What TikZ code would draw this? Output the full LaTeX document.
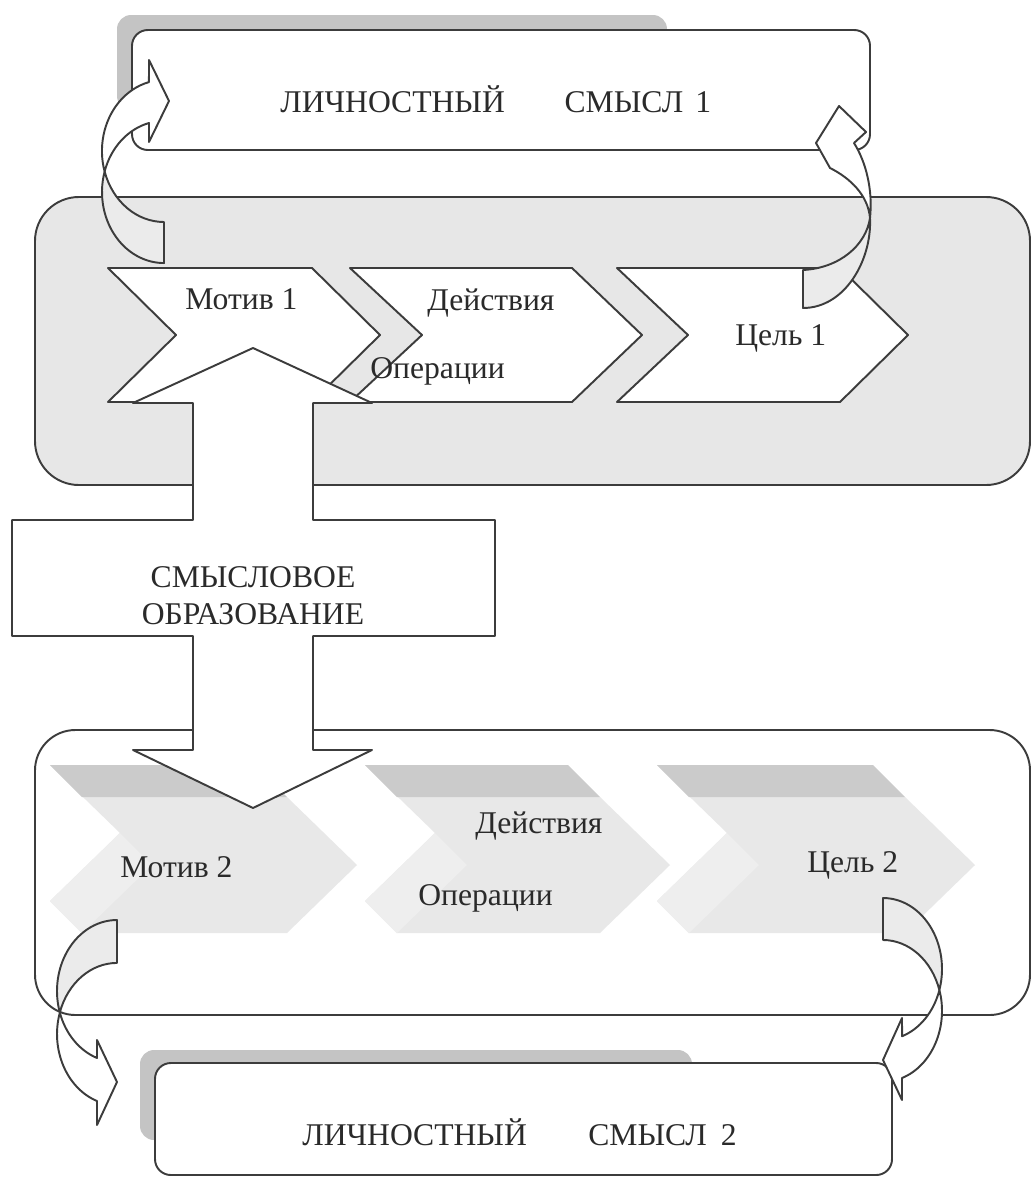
\documentclass[tikz,border=0pt]{standalone}
\usepackage{fontspec}
\setmainfont{Liberation Serif}
\definecolor{linec}{HTML}{3C3C3C}
\definecolor{txtc}{HTML}{2A2A2A}
\definecolor{boxgray}{HTML}{E7E7E7}
\definecolor{tabgray}{HTML}{C4C4C4}
\definecolor{bandgray}{HTML}{CBCBCB}
\definecolor{facegray}{HTML}{E8E8E8}
\definecolor{sidegray}{HTML}{EEEEEE}
\definecolor{backgray}{HTML}{EBEBEB}

\begin{document}
\begin{tikzpicture}[x=0.02cm,y=-0.02cm,
  ln/.style={draw=linec,line width=1.1pt,line join=round},
  lbl/.style={font=\fontsize{18}{20.5}\selectfont,text=txtc,inner sep=0pt},
  chev/.style={ln,fill=white},
  band/.style={fill=bandgray},
  face/.style={fill=facegray},
  side/.style={fill=sidegray},
  cback/.style={ln,fill=backgray},
  cfront/.style={ln,fill=white}]
\useasboundingbox (0,0) rectangle (1033,1180);

\fill[tabgray,rounded corners=8pt] (117,15) rectangle (667,110);
\draw[ln,fill=white,rounded corners=9pt] (132,30) rectangle (870,150);

\draw[ln,fill=boxgray,rounded corners=25pt] (35,197) rectangle (1030,485);
\draw[chev] (108,268) -- (312,268) -- (380,335) -- (312,402) -- (108,402) -- (176,335) -- cycle;
\draw[chev] (350,268) -- (572,268) -- (642,335) -- (572,402) -- (350,402) -- (422,335) -- cycle;
\draw[chev] (617,268) -- (840,268) -- (908,335) -- (840,402) -- (617,402) -- (688,335) -- cycle;

\draw[ln,fill=white,rounded corners=23pt] (35,730) rectangle (1030,1015);
\fill[face] (50,765) -- (255,765) -- (287,797) -- (357,865) -- (287,933) -- (82,933) -- (50,901) -- (120,833) -- cycle;
\fill[side] (120,833) -- (152,865) -- (82,933) -- (50,901) -- cycle;
\fill[band] (50,765) -- (255,765) -- (287,797) -- (82,797) -- cycle;
\fill[face] (365,765) -- (568,765) -- (600,797) -- (670,865) -- (600,933) -- (397,933) -- (365,901) -- (435,833) -- cycle;
\fill[side] (435,833) -- (467,865) -- (397,933) -- (365,901) -- cycle;
\fill[band] (365,765) -- (568,765) -- (600,797) -- (397,797) -- cycle;
\fill[face] (657,765) -- (873,765) -- (905,797) -- (975,865) -- (905,933) -- (689,933) -- (657,901) -- (727,833) -- cycle;
\fill[side] (727,833) -- (759,865) -- (689,933) -- (657,901) -- cycle;
\fill[band] (657,765) -- (873,765) -- (905,797) -- (689,797) -- cycle;

\draw[ln,fill=white] (253,348) -- (372,403) -- (313,403) -- (313,520) -- (495,520) -- (495,636)
  -- (313,636) -- (313,750) -- (372,750) -- (253,808) -- (133,750) -- (193,750) -- (193,636)
  -- (12,636) -- (12,520) -- (193,520) -- (193,403) -- (133,403) -- cycle;

\fill[tabgray,rounded corners=8pt] (140,1050) rectangle (692,1140);
\draw[ln,fill=white,rounded corners=9pt] (155,1063) rectangle (892,1175);

\node[lbl,anchor=base west] (ls1) at (280,112) {ЛИЧНОСТНЫЙ\hspace{34pt}СМЫСЛ\hspace{7pt}1};
\node[lbl,anchor=base west] (m1) at (185,309) {Мотив 1};
\node[lbl,anchor=base west] (d1) at (427,310) {Действия};
\node[lbl,anchor=base west] (o1) at (370,378) {Операции};
\node[lbl,anchor=base west] (c1) at (735,345) {Цель 1};
\node[lbl,anchor=base,align=center] (so) at (253,624) {СМЫСЛОВОЕ\\ОБРАЗОВАНИЕ};
\node[lbl,anchor=base west] (m2) at (120,877) {Мотив 2};
\node[lbl,anchor=base west] (d2) at (475,833) {Действия};
\node[lbl,anchor=base west] (o2) at (418,905) {Операции};
\node[lbl,anchor=base west] (c2) at (807,872) {Цель 2};
\node[lbl,anchor=base west] (ls2) at (302,1145) {ЛИЧНОСТНЫЙ\hspace{35pt}СМЫСЛ\hspace{8pt}2};

\draw[cback] (164,222) arc[start angle=90,end angle=163.2,x radius=62,y radius=71]
  arc[start angle=196.8,end angle=90,x radius=62,y radius=71] -- cycle;
\draw[cfront] (104.6,171.5) arc[start angle=163.2,end angle=256,x radius=62,y radius=71]
  -- (149,60) -- (169,101) -- (149,142) -- (149,123)
  arc[start angle=256,end angle=196.8,x radius=62,y radius=71] -- cycle;

\draw[cback] (803,270) .. controls (840,268) and (866,245) .. (870,218)
  .. controls (872,260) and (845,308) .. (803,308) -- cycle;
\draw[cfront] (870,218) .. controls (873,190) and (866,162) .. (854,143)
  -- (866,132) -- (839,106) -- (816,143) -- (830,168)
  .. controls (850,178) and (868,195) .. (870,218) -- cycle;

\draw[cback] (117,920) arc[start angle=270,end angle=162.4,x radius=60,y radius=71]
  arc[start angle=197.6,end angle=270,x radius=60,y radius=71] -- cycle;
\draw[cfront] (59.8,1012.5) arc[start angle=162.4,end angle=109.5,x radius=60,y radius=71]
  -- (97,1040) -- (117,1082) -- (97,1125) -- (97,1101)
  arc[start angle=109.5,end angle=197.6,x radius=60,y radius=71] -- cycle;

\draw[cback] (883,898) arc[start angle=-90,end angle=17.2,x radius=59,y radius=71]
  arc[start angle=-17.2,end angle=-90,x radius=59,y radius=71] -- cycle;
\draw[cfront] (939.4,990) arc[start angle=17.2,end angle=71.2,x radius=59,y radius=71]
  -- (902,1018) -- (883,1060) -- (902,1100) -- (902,1078)
  arc[start angle=71.2,end angle=-17.2,x radius=59,y radius=71] -- cycle;
\end{tikzpicture}
\end{document}
